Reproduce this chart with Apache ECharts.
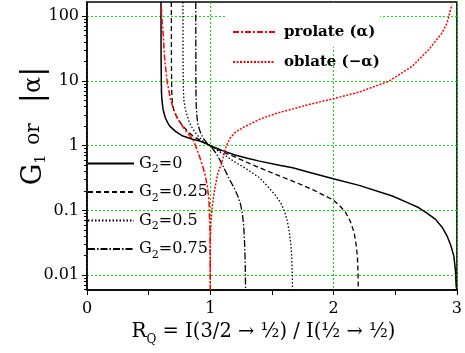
<!DOCTYPE html>
<html><head><meta charset="utf-8">
<script src="https://cdn.jsdelivr.net/npm/echarts@6/dist/echarts.min.js"></script>
<style>html,body{margin:0;padding:0;background:#fff}#c{width:465px;height:353px}</style>
</head><body><div id="c"></div>
<script>
// ---- data ----
const xTicks = [0, 1, 2, 3];
const yMajor = [0.01, 0.1, 1, 10, 100];
const yMinor = [0.006,0.007,0.008,0.009,0.02,0.03,0.04,0.05,0.06,0.07,0.08,0.09,
                0.2,0.3,0.4,0.5,0.6,0.7,0.8,0.9,2,3,4,5,6,7,8,9,20,30,40,50,60,70,80,90];

const rqG0  = [0.600,0.601,0.604,0.608,0.617,0.635,0.655,0.671,0.720,0.778,0.850,0.914,0.980,1.000,1.100,1.200,1.300,1.399,1.560,1.668,1.800,1.997,2.207,2.476,2.600,2.692,2.760,2.827,2.880,2.921,2.950,2.975,2.988,2.994,3.000];
const g1G0  = [166,20,6.6,5.0,3.63,2.7,2.25,2.01,1.65,1.41,1.27,1.18,1.05,1.0,0.84,0.72,0.64,0.578,0.50,0.457,0.39,0.309,0.244,0.167,0.132,0.110,0.090,0.0728,0.055,0.040,0.029,0.0197,0.012,0.0068,0.0059];

const rqG25 = [0.684,0.685,0.687,0.692,0.700,0.711,0.740,0.778,0.820,0.859,0.954,1.000,1.100,1.200,1.300,1.399,1.530,1.668,1.830,1.997,2.050,2.099,2.135,2.167,2.182,2.193,2.198,2.200];
const g1G25 = [166,20,7,4.6,3.8,3.23,2.5,2.01,1.65,1.41,1.11,1.0,0.80,0.67,0.55,0.457,0.36,0.284,0.21,0.145,0.118,0.0923,0.068,0.0453,0.030,0.0197,0.011,0.0059];

const rqG50 = [0.778,0.779,0.781,0.786,0.795,0.805,0.830,0.859,0.900,0.940,1.000,1.100,1.200,1.300,1.399,1.470,1.533,1.572,1.601,1.625,1.641,1.653,1.660,1.665,1.667];
const g1G50 = [166,20,8,5,3.9,3.23,2.3,1.79,1.42,1.18,1.0,0.75,0.56,0.43,0.32,0.23,0.167,0.13,0.0977,0.068,0.0453,0.030,0.0197,0.0100,0.0059];

const rqG75 = [0.882,0.883,0.886,0.892,0.900,0.920,0.940,0.980,1.000,1.050,1.100,1.156,1.190,1.223,1.245,1.259,1.270,1.277,1.283,1.286];
const g1G75 = [166,8,4.0,2.8,2.1,1.6,1.33,1.05,1.0,0.75,0.50,0.30,0.23,0.167,0.125,0.092,0.060,0.0357,0.0156,0.0059];

const rqProlate = [0.603,0.608,0.617,0.630,0.649,0.677,0.705,0.738,0.800,0.859,0.880,0.920,0.954,0.975,0.989,0.997,0.999,1.000];
const alphaProlate = [141,90,56,22,10,5.2,3.5,2.55,1.7,1.25,1.0,0.62,0.383,0.24,0.148,0.05,0.02,0.0059];

const rqOblate = [1.000,1.000,1.005,1.016,1.035,1.062,1.089,1.110,1.130,1.160,1.200,1.263,1.399,1.533,1.803,1.997,2.207,2.450,2.638,2.773,2.880,2.921,2.948,2.961];
const alphaOblate = [0.0059,0.036,0.065,0.117,0.211,0.383,0.514,0.72,1.0,1.3,1.6,1.9,2.55,3.15,4.34,5.32,6.73,9.95,16.9,30.7,55.6,79,127,151];

const names = ['G₂=0','G₂=0.25','G₂=0.5','G₂=0.75','prolate (α)','oblate (−α)'];

// ---- build ----
const pair = (xs, ys) => xs.map((x, i) => [x, ys[i]]);
const FF = 'DejaVu Serif';
const GREEN = '#00e600';
const NOSYM = { color: 'rgba(0,0,0,0)', borderColor: 'rgba(0,0,0,0)', borderWidth: 0, opacity: 0 };

function lineSeries(name, xs, ys, color, type, width) {
  return {
    name, type: 'line', data: pair(xs, ys), symbol: 'none', showSymbol: false,
    smooth: false, clip: true, xAxisIndex: 0, yAxisIndex: 0,
    lineStyle: { color, type, width }, itemStyle: { color },
    emphasis: { disabled: true }
  };
}

const option = {
  animation: false,
  backgroundColor: '#fff',
  grid: { left: 87, right: 7, top: 2, bottom: 63, show: true, borderColor: '#000', borderWidth: 1.5 },
  xAxis: {
    type: 'value', min: xTicks[0], max: xTicks[xTicks.length - 1], interval: 1,
    axisLine: { show: true, onZero: false, lineStyle: { color: '#000', width: 1.5 } },
    axisTick: { show: true, length: 5, lineStyle: { color: '#000', width: 1 } },
    minorTick: { show: true, splitNumber: 2, length: 5, lineStyle: { color: '#000', width: 1 } },
    axisLabel: { fontFamily: FF, fontSize: 16, color: '#000', margin: 11 },
    splitLine: { show: true, lineStyle: { color: GREEN, type: [2, 2], width: 1 } },
    name: '{r|R}{q|Q}{t| = I(3/2 → ½) / I(½ → ½)}',
    nameLocation: 'middle', nameGap: 28,
    nameTextStyle: {
      color: '#000', fontFamily: FF, fontSize: 19, padding: [0, 17, 0, 0],
      rich: {
        r: { fontFamily: FF, fontSize: 20, color: '#000' },
        q: { fontFamily: FF, fontSize: 12, color: '#000', padding: [16, 0, 0, 0] },
        t: { fontFamily: FF, fontSize: 19.5, color: '#000' }
      }
    }
  },
  yAxis: [{
    type: 'log', logBase: 10, min: 0.0059, max: 166, position: 'left',
    axisLine: { show: true, lineStyle: { color: '#000', width: 1.5 } },
    axisTick: { show: true, length: 5, customValues: yMajor, lineStyle: { color: '#000', width: 1 } },
    axisLabel: { customValues: yMajor, fontFamily: FF, fontSize: 16, color: '#000', margin: 8,
                 formatter: v => String(+v.toPrecision(3)) },
    splitLine: { show: true, lineStyle: { color: GREEN, type: [2, 2], width: 1 } },
    name: '{g|G}{s|1}{o|or}{b||}{a|α}{b||}',
    nameLocation: 'middle', nameRotate: 90, nameGap: 38, nameMoveOverlap: false,
    nameTextStyle: {
      color: '#000', fontFamily: FF, padding: [0, 0, 0, 40],
      rich: {
        g: { fontFamily: FF, fontSize: 27, color: '#000' },
        s: { fontFamily: FF, fontSize: 14, color: '#000', padding: [14, 0, 0, 0] },
        o: { fontFamily: FF, fontSize: 20, color: '#000', padding: [0, 20, 0, 10] },
        a: { fontFamily: FF, fontSize: 24, color: '#000' },
        b: { fontFamily: FF, fontSize: 30, color: '#000' }
      }
    }
  }, {
    type: 'log', logBase: 10, min: 0.0059, max: 166, position: 'left', offset: 0,
    axisLine: { show: false },
    axisTick: { show: true, length: 3, customValues: yMinor, lineStyle: { color: '#000', width: 1 } },
    axisLabel: { show: false },
    splitLine: { show: false }
  }],
  legend: [{
    data: names.slice(0, 4), orient: 'vertical', left: 87, top: 152, padding: 0,
    itemWidth: 46, itemHeight: 14, itemGap: 5.5, selectedMode: false, itemStyle: NOSYM,
    formatter: n => '{a|G}{s|2}{a|=' + n.split('=')[1] + '}',
    textStyle: {
      color: '#000', fontFamily: FF, fontSize: 16,
      rich: {
        a: { fontFamily: FF, fontSize: 16, color: '#000', lineHeight: 20 },
        s: { fontFamily: FF, fontSize: 11, color: '#000', lineHeight: 11, padding: [12, 0, 0, 0] }
      }
    }
  }, {
    data: [names[4]], orient: 'vertical', left: 227, top: 3, padding: [20, 5, 6, 5],
    backgroundColor: '#fff', itemWidth: 42, itemHeight: 14, selectedMode: false, itemStyle: NOSYM,
    textStyle: { color: '#000', fontFamily: FF, fontSize: 15, fontWeight: 'bold', lineHeight: 18, padding: [0, 0, 0, 4] }
  }, {
    data: [names[5]], orient: 'vertical', left: 232, top: 53, padding: 0,
    itemWidth: 42, itemHeight: 14, selectedMode: false, itemStyle: NOSYM,
    textStyle: { color: '#000', fontFamily: FF, fontSize: 15, fontWeight: 'bold', lineHeight: 18, padding: [0, 0, 0, 4] }
  }],
  series: [
    lineSeries(names[0], rqG0, g1G0, '#000', 'solid', 1.5),
    lineSeries(names[1], rqG25, g1G25, '#000', [5, 3], 1.3),
    lineSeries(names[2], rqG50, g1G50, '#000', [1.5, 2], 1.3),
    lineSeries(names[3], rqG75, g1G75, '#000', [7, 2, 1.5, 2], 1.3),
    lineSeries(names[4], rqProlate, alphaProlate, '#ff0000', [6, 2, 2, 2], 1.5),
    lineSeries(names[5], rqOblate, alphaOblate, '#ff0000', [2, 1.5], 1.5)
  ]
};

const chart = echarts.init(document.getElementById('c'), null, { renderer: 'canvas' });
chart.setOption(option);
</script>
</body></html>
